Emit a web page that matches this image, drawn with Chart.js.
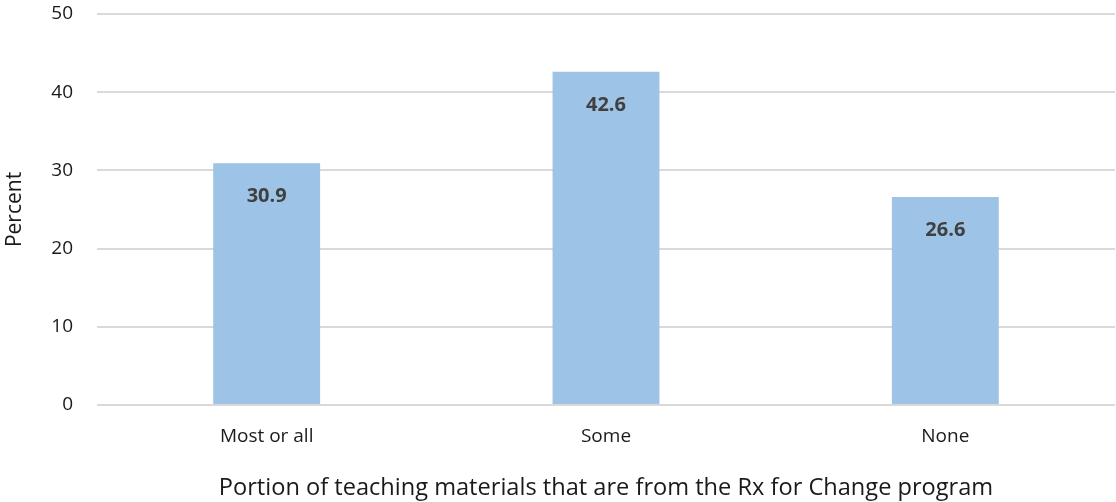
<!DOCTYPE html>
<html>
<head>
<meta charset="utf-8">
<script src="https://cdn.jsdelivr.net/npm/chart.js@4/dist/chart.umd.min.js"></script>
<style>
  html, body { margin: 0; padding: 0; background: #fff; }
  #wrap { width: 1116px; height: 502px; }
</style>
</head>
<body>
<div id="wrap"><canvas id="barChart" width="1116" height="502"></canvas></div>
<script>
const categories = ['Most or all', 'Some', 'None'];
const percentValues = [30.9, 42.6, 26.6];
const yTicks = [0, 10, 20, 30, 40, 50];

const FONT = "'Open Sans', 'Liberation Sans', sans-serif";

// value labels inside the top of each bar
const barLabels = {
  id: 'barLabels',
  afterDatasetsDraw(chart) {
    const ctx = chart.ctx;
    const meta = chart.getDatasetMeta(0);
    ctx.save();
    ctx.font = 'bold 20px ' + FONT;
    ctx.fillStyle = '#404040';
    ctx.textAlign = 'center';
    ctx.textBaseline = 'middle';
    meta.data.forEach((bar, i) => {
      ctx.fillText(percentValues[i].toFixed(1), bar.x, bar.y + 33);
    });
    ctx.restore();
  }
};

new Chart(document.getElementById('barChart').getContext('2d'), {
  type: 'bar',
  data: {
    labels: categories,
    datasets: [{
      label: 'Percent',
      data: percentValues,
      backgroundColor: '#9dc3e6',
      borderWidth: 0,
      categoryPercentage: 1,
      barPercentage: 0.315
    }]
  },
  options: {
    responsive: false,
    animation: false,
    layout: { padding: { top: 14, right: 1, left: 0, bottom: 0 } },
    plugins: {
      legend: { display: false },
      tooltip: { enabled: false }
    },
    scales: {
      y: {
        min: 0,
        max: 50,
        afterBuildTicks(scale) { scale.ticks = yTicks.map(v => ({ value: v })); },
        afterFit(scale) {
          scale.width = 97;
          scale.paddingTop = 0;
          scale.paddingBottom = 0;
        },
        border: { display: false },
        grid: { color: '#d9d9d9', lineWidth: 2, drawTicks: false },
        ticks: { padding: 24, color: '#1a1a1a', font: { family: FONT, size: 19 } },
        title: {
          display: true,
          text: 'Percent',
          color: '#1a1a1a',
          font: { family: FONT, size: 21 },
          padding: { top: 2, bottom: 0 }
        }
      },
      x: {
        afterFit(scale) {
          scale.height = 97;
          scale.paddingLeft = 0;
          scale.paddingRight = 0;
        },
        border: { display: false },
        grid: { display: false, drawTicks: false },
        ticks: { padding: 20, color: '#1a1a1a', font: { family: FONT, size: 19 } },
        title: {
          display: true,
          text: 'Portion of teaching materials that are from the Rx for Change program',
          color: '#1a1a1a',
          font: { family: FONT, size: 23.6 },
          padding: { top: 0, bottom: 0 }
        }
      }
    }
  },
  plugins: [barLabels]
});
</script>
</body>
</html>
